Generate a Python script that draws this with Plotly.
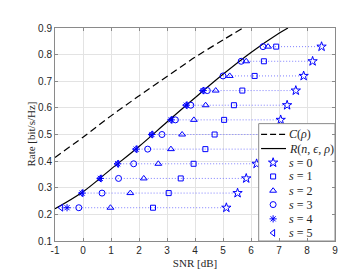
import plotly.graph_objects as go

# Row rates (bit/s/Hz)
rates = [0.225, 0.28, 0.335, 0.39, 0.445, 0.5, 0.555, 0.61, 0.665, 0.72, 0.775, 0.83]

# SNR [dB] for each s, per row (None = not shown)
snr_s0 = [5.12, 5.52, 5.83, 6.20, 6.50, 6.78, 7.06, 7.29, 7.60, 7.88, 8.20, 8.52]
snr_s1 = [2.50, 3.06, 3.49, 3.95, 4.37, 4.70, 5.04, 5.39, 5.69, 6.13, 6.46, 6.90]
snr_s2 = [0.98, 1.69, 2.17, 2.69, 3.14, 3.54, 3.96, 4.38, 4.74, 5.24, 5.83, 6.61]
snr_s3 = [-0.15, 0.68, 1.27, 1.81, 2.31, 2.82, 3.30, 3.85, 4.44, 5.00, 5.65, 6.43]
snr_s4 = [-0.57, -0.03, 0.62, 1.24, 1.90, 2.46, 3.15, 3.69, 4.29, None, None, None]
snr_s5 = [-0.78, -0.05, 0.60, 1.22, 1.88, 2.44, 3.13, 3.67, 4.27, None, None, None]

# Capacity curve C(rho)
cap_snr = [-1.0, 0.0, 1.0, 2.0, 3.0, 4.0, 5.0, 5.71]
cap_rate = [0.414, 0.490, 0.570, 0.645, 0.718, 0.790, 0.855, 0.900]

# Normal approximation R(n, eps, rho)
na_snr = [-1.0, 0.0, 1.0, 2.0, 3.0, 4.0, 5.0, 6.0, 7.0, 7.32]
na_rate = [0.221, 0.285, 0.370, 0.455, 0.547, 0.638, 0.726, 0.808, 0.880, 0.900]

x_ticks = [-1, 0, 1, 2, 3, 4, 5, 6, 7, 8, 9]
y_ticks = [0.1, 0.2, 0.3, 0.4, 0.5, 0.6, 0.7, 0.8, 0.9]

legend_labels = ["<i>C</i>(<i>ρ</i>)", "<i>R</i>(<i>n</i>, <i>ϵ</i>, <i>ρ</i>)",
                 "<i>s</i> = 0", "<i>s</i> = 1", "<i>s</i> = 2",
                 "<i>s</i> = 3", "<i>s</i> = 4", "<i>s</i> = 5"]

series = [
    (snr_s0, "star-open", 7),
    (snr_s1, "square-open", 5),
    (snr_s2, "triangle-up-open", 6),
    (snr_s3, "circle-open", 6),
    (snr_s4, "asterisk-open", 6),
    (snr_s5, "triangle-left-open", 6),
]

BLUE = "#0000ff"
DOT = "#7f7fff"
GRAY = "#8a8a8a"
TXT = "#262626"
fig = go.Figure()

# dotted connectors per row
for i, r in enumerate(rates):
    xs = [s[0][i] for s in series if s[0][i] is not None]
    fig.add_trace(go.Scatter(x=[min(xs), max(xs)], y=[r, r], mode="lines",
                             line=dict(color=DOT, width=1, dash="1px,2px"),
                             showlegend=False, hoverinfo="skip"))

fig.add_trace(go.Scatter(x=cap_snr, y=cap_rate, mode="lines", showlegend=False,
                         line=dict(color="black", width=1.2, dash="7px,4px", shape="spline")))
fig.add_trace(go.Scatter(x=na_snr, y=na_rate, mode="lines", showlegend=False,
                         line=dict(color="black", width=1.2, shape="spline")))

for xs, sym, sz in series:
    fig.add_trace(go.Scatter(x=xs, y=rates, mode="markers", showlegend=False,
                             marker=dict(symbol=sym, size=sz, color=BLUE,
                                         line=dict(color=BLUE, width=1))))

# ---- manual legend on an overlay axis (fractions of the plot area) ----
lx0, lx1, ly0, ly1 = 0.7275, 1.0, 0.0, 0.551
fig.add_trace(go.Scatter(x=[lx0, lx1, lx1, lx0, lx0], y=[ly0, ly0, ly1, ly1, ly0],
                         mode="lines", fill="toself", fillcolor="white",
                         line=dict(color=GRAY, width=1), xaxis="x2", yaxis="y2",
                         showlegend=False, hoverinfo="skip", cliponaxis=False))
row_y = [0.501, 0.434, 0.368, 0.303, 0.236, 0.171, 0.104, 0.038]
sx0, sx1, sxm, tx = 0.736, 0.825, 0.779, 0.828
fig.add_trace(go.Scatter(x=[sx0, sx1], y=[row_y[0]] * 2, mode="lines", xaxis="x2", yaxis="y2",
                         line=dict(color="black", width=1.2, dash="6px,3px"),
                         showlegend=False, hoverinfo="skip"))
fig.add_trace(go.Scatter(x=[sx0, sx1], y=[row_y[1]] * 2, mode="lines", xaxis="x2", yaxis="y2",
                         line=dict(color="black", width=1.2),
                         showlegend=False, hoverinfo="skip"))
for k, (xs, sym, sz) in enumerate(series):
    fig.add_trace(go.Scatter(x=[sxm], y=[row_y[k + 2]], mode="markers", xaxis="x2", yaxis="y2",
                             marker=dict(symbol=sym, size=sz, color=BLUE, line=dict(color=BLUE, width=1)),
                             showlegend=False, hoverinfo="skip"))
for lab, yy in zip(legend_labels, row_y):
    fig.add_annotation(x=tx, y=yy, xref="x2", yref="y2", text=lab, showarrow=False,
                       xanchor="left", yanchor="middle",
                       font=dict(family="Liberation Serif", size=12, color=TXT))

# y-axis title placed as annotation for exact position
fig.add_annotation(x=-0.089, y=0.5, xref="paper", yref="paper", text="Rate [bit/s/Hz]",
                   textangle=-90, showarrow=False, xanchor="center", yanchor="middle",
                   font=dict(family="Liberation Serif", size=11, color=TXT))

axis_common = dict(showgrid=True, gridcolor="#e3e3e3", gridwidth=1,
                   showline=True, linecolor=GRAY, linewidth=1, mirror="ticks",
                   ticks="inside", ticklen=3, tickcolor=GRAY,
                   tickfont=dict(family="Liberation Sans", size=10, color=TXT),
                   zeroline=False)

fig.update_xaxes(range=[-1, 9], tickvals=x_ticks, ticktext=[str(v) for v in x_ticks],
                 title=dict(text="SNR [dB]", font=dict(family="Liberation Serif", size=11, color=TXT), standoff=4),
                 **axis_common)
fig.update_yaxes(range=[0.1, 0.9], tickvals=y_ticks, ticktext=[f"{v:.1f}" for v in y_ticks],
                 **axis_common)

fig.update_layout(
    width=362, height=272,
    margin=dict(l=47, r=35, t=20, b=30),
    paper_bgcolor="white", plot_bgcolor="white",
    showlegend=False,
    xaxis2=dict(overlaying="x", range=[0, 1], visible=False, fixedrange=True),
    yaxis2=dict(overlaying="y", range=[0, 1], visible=False, fixedrange=True),
)

fig.write_html("out.html")
